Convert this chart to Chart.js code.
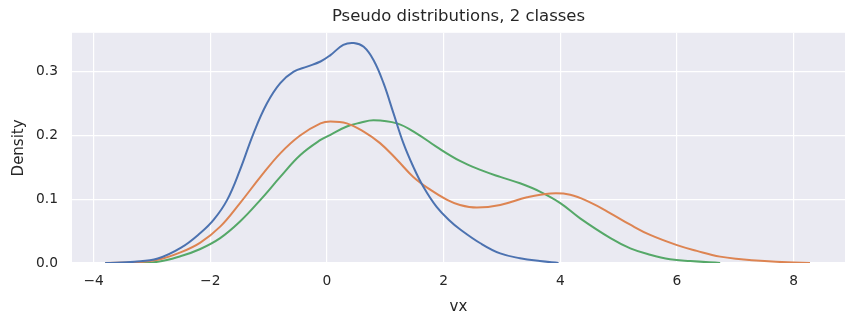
<!DOCTYPE html>
<html>
<head>
<meta charset="utf-8">
<script src="https://cdn.jsdelivr.net/npm/chart.js@4/dist/chart.umd.min.js"></script>
<style>
  body { margin: 0; background: #ffffff; }
  #wrap { width: 855px; height: 325px; }
</style>
</head>
<body>
<div id="wrap"><canvas id="grafico" width="855" height="325"></canvas></div>
<script>
// tick labels
const xTicks = [-4, -2, 0, 2, 4, 6, 8];
const yTicks = [0, 0.1, 0.2, 0.3];

// class 0 (blue)
const blueX = [-3.8, -3.3, -2.9, -2.5, -2.17, -1.94, -1.71, -1.49, -1.26, -1.03, -0.80, -0.57, -0.34, -0.11, 0.06, 0.28, 0.46, 0.63, 0.8, 0.97, 1.14, 1.31, 1.48, 1.65, 1.88, 2.11, 2.28, 2.63, 2.97, 3.31, 3.65, 3.97];
const blueY = [0, 0.002, 0.007, 0.024, 0.047, 0.068, 0.099, 0.146, 0.203, 0.250, 0.282, 0.300, 0.308, 0.316, 0.326, 0.342, 0.345, 0.339, 0.318, 0.282, 0.235, 0.188, 0.151, 0.120, 0.088, 0.066, 0.053, 0.031, 0.015, 0.0075, 0.003, 0];

// class 1 (orange)
const orangeX = [-3.8, -3.3, -2.9, -2.5, -2.17, -1.83, -1.49, -1.14, -0.80, -0.46, -0.11, 0.06, 0.34, 0.63, 0.91, 1.2, 1.48, 1.77, 2.06, 2.28, 2.57, 2.97, 3.43, 3.83, 4.17, 4.51, 4.86, 5.2, 5.54, 6.0, 6.34, 6.74, 7.1, 7.5, 7.9, 8.28];
const orangeY = [0, 0.001, 0.005, 0.017, 0.032, 0.057, 0.094, 0.135, 0.172, 0.200, 0.219, 0.222, 0.219, 0.206, 0.188, 0.162, 0.135, 0.115, 0.099, 0.091, 0.087, 0.091, 0.103, 0.109, 0.107, 0.095, 0.078, 0.060, 0.044, 0.028, 0.019, 0.010, 0.006, 0.003, 0.001, 0];

// pseudo (green)
const greenX = [-3.8, -3.3, -2.9, -2.5, -2.17, -1.83, -1.49, -1.14, -0.80, -0.46, -0.11, 0.06, 0.34, 0.57, 0.8, 1.2, 1.54, 1.88, 2.28, 2.63, 2.97, 3.31, 3.65, 4.0, 4.34, 4.86, 5.2, 5.54, 5.88, 6.23, 6.74];
const greenY = [0, 0.0005, 0.002, 0.011, 0.022, 0.039, 0.065, 0.099, 0.135, 0.169, 0.193, 0.201, 0.214, 0.220, 0.224, 0.219, 0.203, 0.182, 0.160, 0.146, 0.135, 0.125, 0.112, 0.094, 0.070, 0.039, 0.023, 0.013, 0.006, 0.003, 0];

function puntos(xs, ys) {
    return xs.map((x, i) => ({ x: x, y: ys[i] }));
}

function serie(xs, ys, color) {
    return {
        data: puntos(xs, ys),
        borderColor: color,
        borderWidth: 2,
        pointRadius: 0,
        fill: false,
        tension: 0.4
    };
}

const fondo = {
    id: "fondo",
    beforeDraw(chart) {
        const { ctx, chartArea: a } = chart;
        ctx.save();
        ctx.fillStyle = "#EAEAF2";
        ctx.fillRect(a.left, a.top, a.right - a.left, a.bottom - a.top);
        ctx.restore();
    }
};

const fuente = "'DejaVu Sans', sans-serif";
const texto = "#262626";

new Chart("grafico", {
    type: "line",
    data: {
        datasets: [
            serie(blueX, blueY, "#4C72B0"),
            serie(orangeX, orangeY, "#DD8452"),
            serie(greenX, greenY, "#55A868")
        ]
    },
    options: {
        responsive: false,
        animation: false,
        layout: { padding: { left: 0, right: 10, top: 0, bottom: 0 } },
        plugins: {
            legend: { display: false },
            tooltip: { enabled: false },
            title: {
                display: true,
                fullSize: false,
                text: "Pseudo distributions, 2 classes",
                color: texto,
                font: { family: fuente, size: 16.5, weight: "normal" },
                padding: { top: 7, bottom: 6 }
            }
        },
        scales: {
            x: {
                type: "linear",
                min: -4.37,
                max: 8.88,
                afterBuildTicks: (s) => { s.ticks = xTicks.map(v => ({ value: v })); },
                afterFit: (s) => { s.height = 62; },
                border: { display: false },
                grid: { color: "#ffffff", lineWidth: 1.2, drawTicks: false },
                ticks: {
                    color: texto,
                    padding: 10,
                    font: { family: fuente, size: 13.8 },
                    callback: (v) => String(v).replace("-", "\u2212")
                },
                title: {
                    display: true,
                    text: "vx",
                    color: texto,
                    font: { family: fuente, size: 15 },
                    padding: { top: 0, bottom: 9 }
                }
            },
            y: {
                min: 0,
                max: 0.361,
                afterBuildTicks: (s) => { s.ticks = yTicks.map(v => ({ value: v })); },
                afterFit: (s) => { s.width = 72; },
                border: { display: false },
                grid: { color: "#ffffff", lineWidth: 1.2, drawTicks: false },
                ticks: {
                    color: texto,
                    padding: 14,
                    font: { family: fuente, size: 13.8 },
                    callback: (v) => v.toFixed(1)
                },
                title: {
                    display: true,
                    text: "Density",
                    color: texto,
                    font: { family: fuente, size: 15 },
                    padding: { top: 10, bottom: 0 }
                }
            }
        }
    },
    plugins: [fondo]
});
</script>
</body>
</html>
